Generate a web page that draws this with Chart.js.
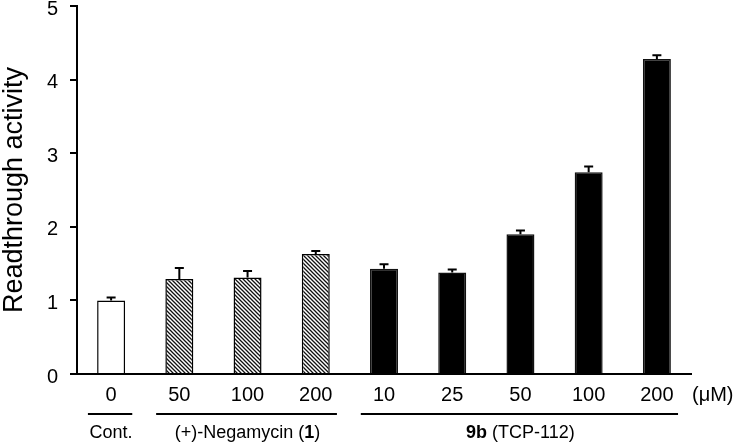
<!DOCTYPE html>
<html>
<head>
<meta charset="utf-8">
<script src="https://cdn.jsdelivr.net/npm/chart.js@4.4.1/dist/chart.umd.min.js"></script>
<style>
  html, body { margin: 0; padding: 0; background: #fff; }
  #wrap { width: 734px; height: 442px; }
</style>
</head>
<body>
<div id="wrap"><canvas id="chart"></canvas></div>
<script>
(function () {
  'use strict';

  // concentrations (uM) shown under each bar
  var doses = ['0', '50', '100', '200', '10', '25', '50', '100', '200'];
  var activity = [1.00, 1.29, 1.31, 1.63, 1.43, 1.38, 1.90, 2.74, 4.28];
  var errors = [0.04, 0.15, 0.09, 0.04, 0.06, 0.04, 0.05, 0.08, 0.05];
  // which style each bar gets: open / hatched / solid
  var kinds = ['open', 'hatch', 'hatch', 'hatch', 'solid', 'solid', 'solid', 'solid', 'solid'];
  var yTicks = [0, 1, 2, 3, 4, 5];
  // groups under the axis: first bar, last bar, label parts [text, bold]
  var groups = [
    { from: 0, to: 0, parts: [['Cont.', false]] },
    { from: 1, to: 3, parts: [['(+)-Negamycin (', false], ['1', true], [')', false]] },
    { from: 4, to: 8, parts: [['9b', true], [' (TCP-112)', false]] }
  ];
  var unitLabel = '(\u03bcM)';

  var FONT = '"Liberation Sans", Arial, sans-serif';

  function hatchPattern() {
    var c = document.createElement('canvas');
    c.width = 4; c.height = 4;
    var g = c.getContext('2d');
    g.fillStyle = '#fff';
    g.fillRect(0, 0, 4, 4);
    g.strokeStyle = '#111';
    g.lineWidth = 1.3;
    g.beginPath();
    g.moveTo(-1, -1); g.lineTo(5, 5);
    g.moveTo(-1, 3); g.lineTo(1, 5);
    g.moveTo(3, -1); g.lineTo(5, 1);
    g.stroke();
    return g.createPattern(c, 'repeat');
  }

  var hatch = hatchPattern();
  var fills = kinds.map(function (k) {
    if (k === 'open') return '#fff';
    if (k === 'hatch') return hatch;
    return '#000';
  });

  var errorBars = {
    id: 'errorBars',
    afterDatasetsDraw: function (chart) {
      var ctx = chart.ctx;
      var y = chart.scales.y;
      var meta = chart.getDatasetMeta(0);
      ctx.save();
      ctx.strokeStyle = '#000';
      ctx.lineWidth = 2;
      meta.data.forEach(function (bar, i) {
        var top = y.getPixelForValue(activity[i] + errors[i]);
        ctx.beginPath();
        ctx.moveTo(bar.x, bar.y);
        ctx.lineTo(bar.x, top);
        ctx.moveTo(bar.x - 4.5, top);
        ctx.lineTo(bar.x + 4.5, top);
        ctx.stroke();
      });
      ctx.restore();
    }
  };

  var groupLabels = {
    id: 'groupLabels',
    afterDraw: function (chart) {
      var ctx = chart.ctx;
      var x = chart.scales.x;
      var area = chart.chartArea;
      var step = x.getPixelForValue(1) - x.getPixelForValue(0);
      ctx.save();
      ctx.strokeStyle = '#000';
      ctx.lineWidth = 2.2;
      ctx.fillStyle = '#000';
      ctx.textBaseline = 'middle';
      groups.forEach(function (gr) {
        var x0 = x.getPixelForValue(gr.from) - step * 0.34;
        var x1 = x.getPixelForValue(gr.to) + step * 0.31;
        ctx.beginPath();
        ctx.moveTo(x0, area.bottom + 40);
        ctx.lineTo(x1, area.bottom + 40);
        ctx.stroke();

        var mid = (x.getPixelForValue(gr.from) + x.getPixelForValue(gr.to)) / 2;
        var widths = gr.parts.map(function (p) {
          ctx.font = (p[1] ? 'bold ' : '') + '18px ' + FONT;
          return ctx.measureText(p[0]).width;
        });
        var total = widths.reduce(function (a, b) { return a + b; }, 0);
        var cx = mid - total / 2;
        ctx.textAlign = 'left';
        gr.parts.forEach(function (p, i) {
          ctx.font = (p[1] ? 'bold ' : '') + '18px ' + FONT;
          ctx.fillText(p[0], cx, area.bottom + 59);
          cx += widths[i];
        });
      });
      ctx.font = '20px ' + FONT;
      ctx.textAlign = 'left';
      ctx.fillText(unitLabel, area.right + 1, area.bottom + 21);
      ctx.restore();
    }
  };

  new Chart(document.getElementById('chart').getContext('2d'), {
    type: 'bar',
    data: {
      labels: doses,
      datasets: [{
        data: activity,
        backgroundColor: fills,
        borderColor: kinds.map(function (k) { return k === 'solid' ? '#111' : '#000'; }),
        borderWidth: 1.5,
        borderSkipped: 'bottom',
        barPercentage: 0.41,
        categoryPercentage: 1
      }]
    },
    options: {
      responsive: true,
      maintainAspectRatio: false,
      animation: false,
      layout: { padding: { left: 0, right: 43, top: 6, bottom: 0 } },
      plugins: {
        legend: { display: false },
        tooltip: { enabled: false }
      },
      scales: {
        x: {
          grid: { display: false, drawTicks: false },
          border: { display: true, color: '#000', width: 2 },
          ticks: { color: '#000', padding: 9, font: { family: FONT, size: 20 } },
          afterFit: function (s) { s.height = 68; }
        },
        y: {
          min: yTicks[0],
          max: yTicks[yTicks.length - 1],
          afterBuildTicks: function (s) {
            s.ticks = yTicks.map(function (v) { return { value: v }; });
          },
          grid: { drawOnChartArea: false, drawTicks: true, tickLength: 7, color: '#000', lineWidth: 2 },
          border: { display: true, color: '#000', width: 2 },
          ticks: { color: '#000', padding: 12, labelOffset: 3, font: { family: FONT, size: 20, lineHeight: 0.6 } },
          title: {
            display: true,
            text: 'Readthrough activity',
            color: '#000',
            padding: 0,
            font: { family: FONT, size: 27, lineHeight: 1.1 }
          },
          afterFit: function (s) { s.width = 77; s.paddingTop = 0; s.paddingBottom = 0; }
        }
      }
    },
    plugins: [errorBars, groupLabels]
  });
})();
</script>
</body>
</html>
